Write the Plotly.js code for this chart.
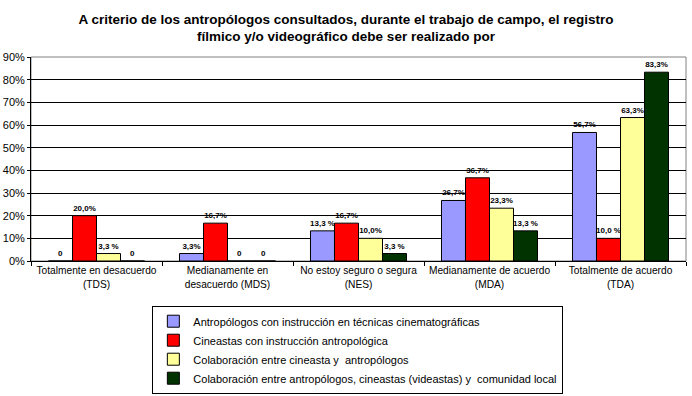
<!DOCTYPE html>
<html>
<head>
<meta charset="utf-8">
<script src="https://cdn.plot.ly/plotly-3.0.1.min.js"></script>
<style>html,body{margin:0;padding:0;background:#fff;}#chart{width:692px;height:396px;}</style>
</head>
<body>
<div id="chart"></div>
<script>
const categories = [
  "Totalmente en desacuerdo<br>(TDS)",
  "Medianamente en<br>desacuerdo (MDS)",
  "No estoy seguro o segura<br>(NES)",
  "Medianamente de acuerdo<br>(MDA)",
  "Totalmente de acuerdo<br>(TDA)"
];
const seriesNames = [
  "Antropólogos con instrucción en técnicas cinematográficas",
  "Cineastas con instrucción antropológica",
  "Colaboración entre cineasta y  antropólogos",
  "Colaboración entre antropólogos, cineastas (videastas) y  comunidad local"
];
const antropologos = [0, 3.3, 13.3, 26.7, 56.7];
const cineastas = [20.0, 16.7, 16.7, 36.7, 10.0];
const colabCineastaAntrop = [3.3, 0, 10.0, 23.3, 63.3];
const colabComunidad = [0, 0, 3.3, 13.3, 83.3];
const labelsAntropologos = ["0", "3,3%", "13,3 %", "26,7%", "56,7%"];
const labelsCineastas = ["20,0%", "16,7%", "16,7%", "36,7%", "10,0 %"];
const labelsColabCineastaAntrop = ["3,3 %", "0", "10,0%", "23,3%", "63,3%"];
const labelsColabComunidad = ["0", "0", "3,3 %", "13,3 %", "83,3%"];
const colors = ["#9999FF", "#FF0000", "#FFFF99", "#003300"];

const values = [antropologos, cineastas, colabCineastaAntrop, colabComunidad];
const labels = [labelsAntropologos, labelsCineastas, labelsColabCineastaAntrop, labelsColabComunidad];

const traces = values.map((v, i) => ({
  type: "bar",
  name: seriesNames[i],
  x: categories,
  y: v,
  text: labels[i],
  texttemplate: "%{text}",
  textposition: "outside",
  textangle: 0,
  constraintext: "none",
  cliponaxis: false,
  outsidetextfont: {family: "Liberation Sans, Arial, sans-serif", size: 8, color: "#000", weight: "bold"},
  marker: {color: colors[i], line: {color: "#000", width: 1}},
  hoverinfo: "none"
}));

const layout = {
  width: 692,
  height: 396,
  margin: {l: 31, r: 6, t: 57, b: 135},
  paper_bgcolor: "#fff",
  plot_bgcolor: "#fff",
  font: {family: "Liberation Sans, Arial, sans-serif", size: 11, color: "#000"},
  title: {
    text: "A criterio de los antropólogos consultados, durante el trabajo de campo, el registro<br>fílmico y/o videográfico debe ser realizado por",
    font: {family: "Liberation Sans, Arial, sans-serif", size: 13.5, color: "#000", weight: "bold"},
    x: 0.5, xanchor: "center", yref: "container", y: 0.94, yanchor: "middle"
  },
  barmode: "group",
  bargap: 0.267,
  bargroupgap: 0,
  showlegend: true,
  legend: {
    orientation: "v",
    xref: "paper", x: 0.499, xanchor: "center",
    yref: "container", y: 0.228, yanchor: "top",
    bordercolor: "#000", borderwidth: 1,
    bgcolor: "#fff",
    font: {family: "Liberation Sans, Arial, sans-serif", size: 11, color: "#000"},
    traceorder: "normal",
    itemwidth: 30
  },
  xaxis: {
    type: "category",
    showgrid: false,
    showline: true, linecolor: "#000", linewidth: 1,
    ticks: "outside", tickson: "boundaries", ticklen: 4, tickcolor: "#000",
    tickangle: 0,
    tickfont: {family: "Liberation Sans, Arial, sans-serif", size: 10.2, color: "#000"},
    automargin: false
  },
  yaxis: {
    range: [0, 90],
    dtick: 10,
    ticksuffix: "%",
    showgrid: true, gridcolor: "#000", gridwidth: 1,
    showline: true, linecolor: "#000", linewidth: 1,
    ticks: "outside", ticklen: 3, tickcolor: "#000",
    tickfont: {family: "Liberation Sans, Arial, sans-serif", size: 11, color: "#000"},
    zeroline: false,
    automargin: false
  },
  shapes: [{
    type: "rect", xref: "paper", yref: "paper", x0: 0, x1: 1, y0: 0, y1: 1,
    line: {color: "#808080", width: 1}, layer: "below"
  }]
};

Plotly.newPlot("chart", traces, layout, {displayModeBar: false, staticPlot: true});
</script>
</body>
</html>
